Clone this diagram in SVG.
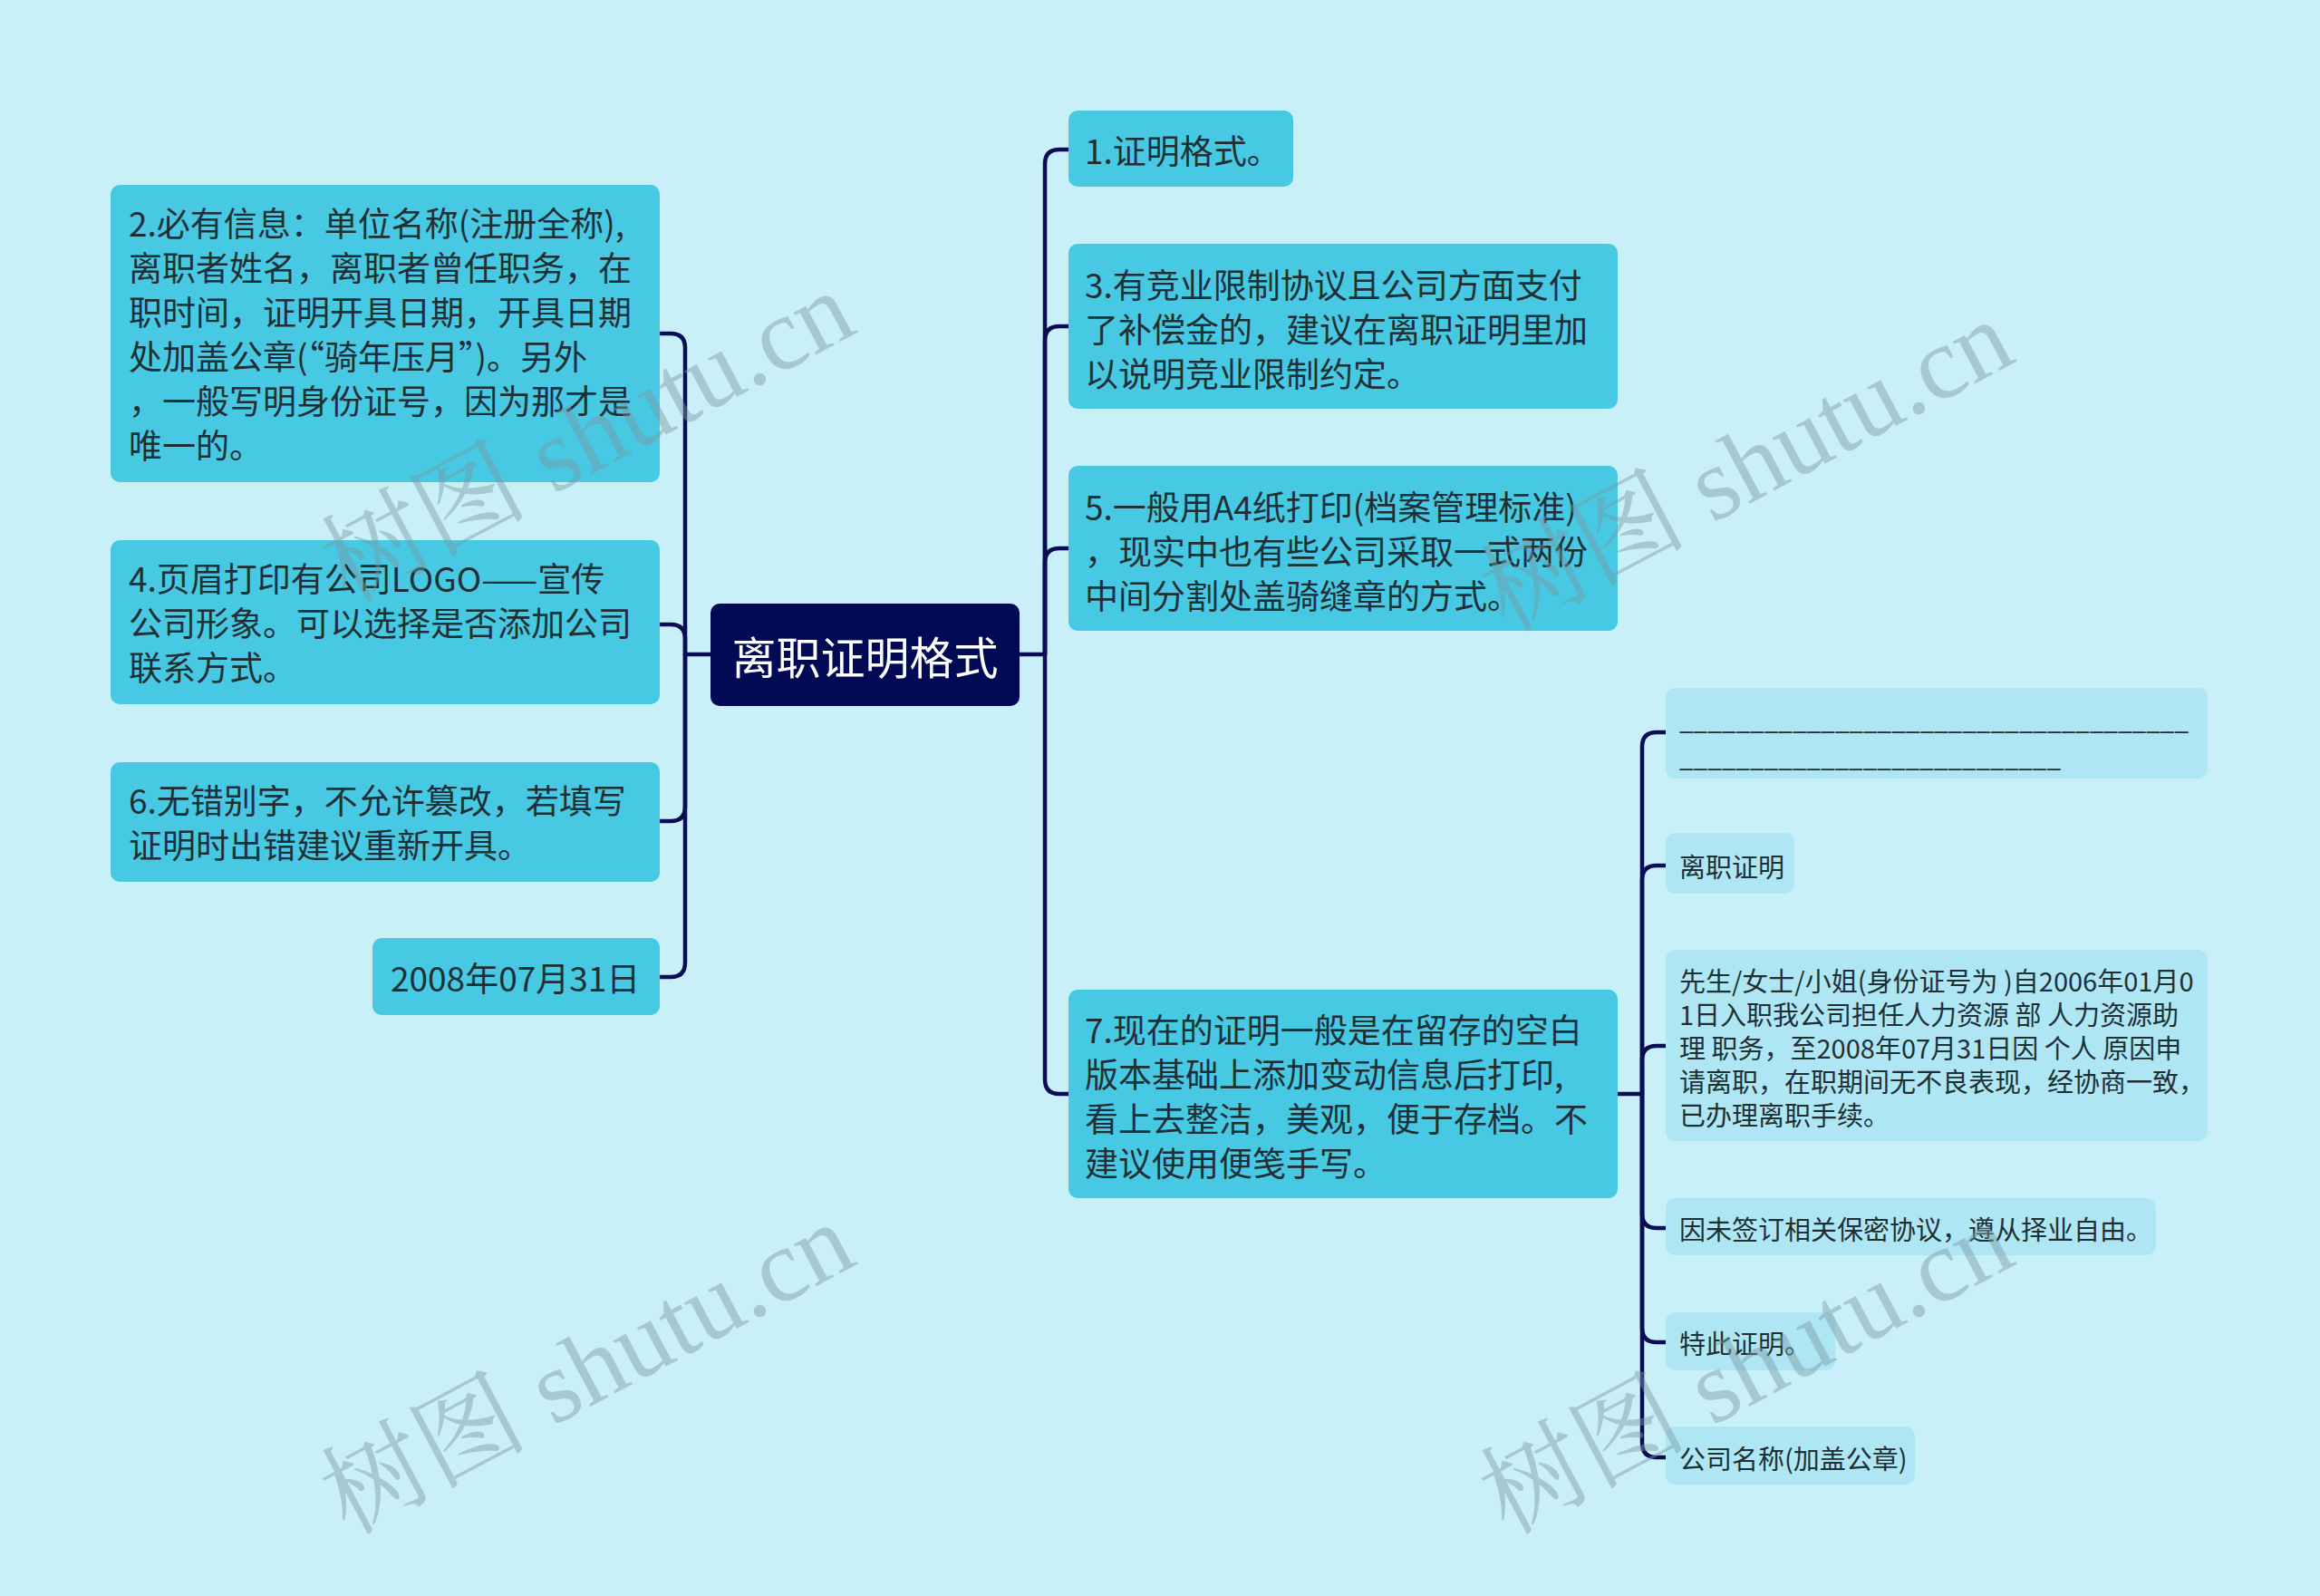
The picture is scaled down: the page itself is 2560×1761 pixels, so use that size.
<svg xmlns="http://www.w3.org/2000/svg" width="2560" height="1761" viewBox="0 0 2560 1761">
<style>
.bg{fill:#c9f0f8}
.n1{fill:#48c9e3}
.n2{fill:#aee7f3}
.root{fill:#020a56}
.t{font-family:"Noto Sans CJK SC","Noto Sans",sans-serif;fill:#1e3035;dominant-baseline:central}
.tm{font-size:37px}
.ts{font-size:29px}
.tr{font-size:49px;fill:#ffffff}
.c{fill:none;stroke:#0a0c55;stroke-width:4.5;stroke-linecap:round;stroke-linejoin:round}
.wm{font-family:"Liberation Serif","Noto Serif CJK SC","Noto Sans CJK SC",serif;font-size:114px;fill:#7a98a2;opacity:0.45}
</style>
<rect class="bg" x="0" y="0" width="2560" height="1761"/>

<g id="connectors">
<path class="c" d="M784,722 H756 V384 Q756,368 740,368 H728"/>
<path class="c" d="M756,722 V705 Q756,689 740,689 H728"/>
<path class="c" d="M756,722 V890 Q756,906 740,906 H728"/>
<path class="c" d="M756,722 V1062 Q756,1078 740,1078 H728"/>
<path class="c" d="M1125,722 H1153 V181 Q1153,165 1169,165 H1179"/>
<path class="c" d="M1153,722 V376 Q1153,360 1169,360 H1179"/>
<path class="c" d="M1153,722 V621 Q1153,605 1169,605 H1179"/>
<path class="c" d="M1153,722 V1191 Q1153,1207 1169,1207 H1179"/>
<path class="c" d="M1785,1207 H1812 V824 Q1812,808 1828,808 H1838"/>
<path class="c" d="M1812,1207 V971 Q1812,955 1828,955 H1838"/>
<path class="c" d="M1812,1207 V1170 Q1812,1154 1828,1154 H1838"/>
<path class="c" d="M1812,1207 V1339 Q1812,1355 1828,1355 H1838"/>
<path class="c" d="M1812,1207 V1465 Q1812,1481 1828,1481 H1838"/>
<path class="c" d="M1812,1207 V1592 Q1812,1608 1828,1608 H1838"/>
</g>

<g id="root">
<rect class="root" x="784" y="666" width="341" height="113" rx="10"/>
<text class="t tr" x="954.5" y="722" text-anchor="middle">离职证明格式</text>
</g>

<g id="node2">
<rect class="n1" x="122" y="204" width="606" height="328" rx="10"/>
<text class="t tm" x="142"><tspan x="142" y="245">2.必有信息：单位名称(注册全称),</tspan><tspan x="142" y="294">离职者姓名，离职者曾任职务，在</tspan><tspan x="142" y="343">职时间，证明开具日期，开具日期</tspan><tspan x="142" y="392">处加盖公章(“骑年压月”)。另外</tspan><tspan x="142" y="441">，一般写明身份证号，因为那才是</tspan><tspan x="142" y="490">唯一的。</tspan></text>
</g>

<g id="node4">
<rect class="n1" x="122" y="596" width="606" height="181" rx="10"/>
<text class="t tm"><tspan x="142" y="637">4.页眉打印有公司LOGO——宣传</tspan><tspan x="142" y="686">公司形象。可以选择是否添加公司</tspan><tspan x="142" y="735">联系方式。</tspan></text>
</g>

<g id="node6">
<rect class="n1" x="122" y="841" width="606" height="132" rx="10"/>
<text class="t tm"><tspan x="142" y="882">6.无错别字，不允许篡改，若填写</tspan><tspan x="142" y="931">证明时出错建议重新开具。</tspan></text>
</g>

<g id="node-date">
<rect class="n1" x="411" y="1035" width="317" height="85" rx="10"/>
<text class="t tm" x="431" y="1078">2008年07月31日</text>
</g>

<g id="node1">
<rect class="n1" x="1179" y="122" width="248" height="84" rx="10"/>
<text class="t tm" x="1197" y="165">1.证明格式。</text>
</g>

<g id="node3">
<rect class="n1" x="1179" y="269" width="606" height="182" rx="10"/>
<text class="t tm"><tspan x="1197" y="313">3.有竞业限制协议且公司方面支付</tspan><tspan x="1197" y="362">了补偿金的，建议在离职证明里加</tspan><tspan x="1197" y="411">以说明竞业限制约定。</tspan></text>
</g>

<g id="node5">
<rect class="n1" x="1179" y="514" width="606" height="182" rx="10"/>
<text class="t tm"><tspan x="1197" y="558">5.一般用A4纸打印(档案管理标准)</tspan><tspan x="1197" y="607">，现实中也有些公司采取一式两份</tspan><tspan x="1197" y="656">中间分割处盖骑缝章的方式。</tspan></text>
</g>

<g id="node7">
<rect class="n1" x="1179" y="1092" width="606" height="230" rx="10"/>
<text class="t tm"><tspan x="1197" y="1135">7.现在的证明一般是在留存的空白</tspan><tspan x="1197" y="1184">版本基础上添加变动信息后打印,</tspan><tspan x="1197" y="1233">看上去整洁，美观，便于存档。不</tspan><tspan x="1197" y="1282">建议使用便笺手写。</tspan></text>
</g>

<g id="sub1">
<rect class="n2" x="1838" y="759" width="598" height="100" rx="10"/>
<text class="t ts" x="1853" y="792" textLength="562" lengthAdjust="spacingAndGlyphs">____________________________________</text>
<text class="t ts" x="1853" y="833" textLength="421" lengthAdjust="spacingAndGlyphs">___________________________</text>
</g>

<g id="sub2">
<rect class="n2" x="1838" y="919" width="142" height="67" rx="10"/>
<text class="t ts" x="1853" y="955">离职证明</text>
</g>

<g id="sub3">
<rect class="n2" x="1838" y="1048" width="598" height="211" rx="10"/>
<text class="t ts"><tspan x="1853" y="1081">先生/女士/小姐(身份证号为 )自2006年01月0</tspan><tspan x="1853" y="1118">1日入职我公司担任人力资源 部 人力资源助</tspan><tspan x="1853" y="1155">理 职务，至2008年07月31日因 个人 原因申</tspan><tspan x="1853" y="1192">请离职，在职期间无不良表现，经协商一致，</tspan><tspan x="1853" y="1229">已办理离职手续。</tspan></text>
</g>

<g id="sub4">
<rect class="n2" x="1838" y="1322" width="541" height="63" rx="10"/>
<text class="t ts" x="1853" y="1355">因未签订相关保密协议，遵从择业自由。</text>
</g>

<g id="sub5">
<rect class="n2" x="1838" y="1448" width="187" height="64" rx="10"/>
<text class="t ts" x="1853" y="1481">特此证明。</text>
</g>

<g id="sub6">
<rect class="n2" x="1838" y="1574" width="275" height="64" rx="10"/>
<text class="t ts" x="1853" y="1608">公司名称(加盖公章)</text>
</g>

<g id="watermarks">
<text class="wm" x="648" y="482" text-anchor="middle" dominant-baseline="central" transform="rotate(-28 648 482)">树图 shutu.cn</text>
<text class="wm" x="1927" y="514" text-anchor="middle" dominant-baseline="central" transform="rotate(-28 1927 514)">树图 shutu.cn</text>
<text class="wm" x="648" y="1510" text-anchor="middle" dominant-baseline="central" transform="rotate(-28 648 1510)">树图 shutu.cn</text>
<text class="wm" x="1927" y="1510" text-anchor="middle" dominant-baseline="central" transform="rotate(-28 1927 1510)">树图 shutu.cn</text>
</g>
</svg>
